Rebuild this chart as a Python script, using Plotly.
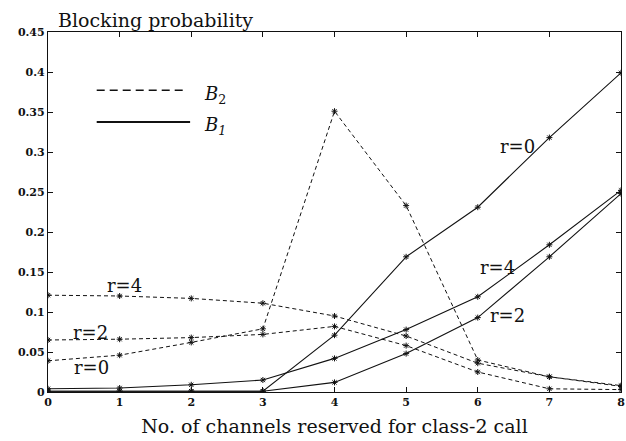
import plotly.graph_objects as go

# Number of channels reserved for class-2 calls
channels = [0, 1, 2, 3, 4, 5, 6, 7, 8]

# Class-2 blocking probability B2 (dashed)
b2_r0 = [0.039, 0.046, 0.062, 0.079, 0.351, 0.233, 0.040, 0.019, 0.008]
b2_r2 = [0.065, 0.066, 0.068, 0.072, 0.082, 0.058, 0.025, 0.004, 0.003]
b2_r4 = [0.121, 0.120, 0.117, 0.111, 0.095, 0.070, 0.036, 0.019, 0.007]

# Class-1 blocking probability B1 (solid)
b1_r0 = [0.001, 0.001, 0.001, 0.001, 0.071, 0.169, 0.231, 0.318, 0.399]
b1_r2 = [0.001, 0.001, 0.001, 0.001, 0.012, 0.048, 0.093, 0.169, 0.248]
b1_r4 = [0.004, 0.005, 0.009, 0.015, 0.042, 0.078, 0.119, 0.184, 0.252]

# Curve labels: (text, x, y)
curve_labels = [
    ("r=4", 1.07, 0.133),
    ("r=2", 0.59, 0.074),
    ("r=0", 0.61, 0.031),
    ("r=0", 6.55, 0.307),
    ("r=4", 6.27, 0.156),
    ("r=2", 6.41, 0.096),
]

SERIF = "DejaVu Serif, serif"
INK = "#111111"

fig = go.Figure()

marker = dict(symbol="asterisk-open", size=5, color=INK, line=dict(width=1, color=INK))

for ys in (b2_r0, b2_r2, b2_r4):
    fig.add_trace(go.Scatter(
        x=channels, y=ys, mode="lines+markers",
        line=dict(color=INK, width=1, dash="4px,3px"),
        marker=marker, showlegend=False, hoverinfo="skip",
    ))

for ys in (b1_r0, b1_r2, b1_r4):
    fig.add_trace(go.Scatter(
        x=channels, y=ys, mode="lines+markers",
        line=dict(color=INK, width=1.1),
        marker=marker, showlegend=False, hoverinfo="skip",
    ))

for text, x, y in curve_labels:
    fig.add_annotation(x=x, y=y, text=text, showarrow=False,
                       font=dict(family=SERIF, size=18, color=INK),
                       xanchor="center", yanchor="middle")

# Legend key drawn by hand
fig.add_shape(type="line", xref="paper", yref="paper",
              x0=0.085, x1=0.238, y0=0.838, y1=0.838,
              line=dict(color=INK, width=1.6, dash="8px,5px"))
fig.add_shape(type="line", xref="paper", yref="paper",
              x0=0.085, x1=0.248, y0=0.750, y1=0.750,
              line=dict(color=INK, width=2.2))
fig.add_annotation(xref="paper", yref="paper", x=0.268, y=0.826,
                   text="<i>B</i><sub>2</sub>", showarrow=False,
                   xanchor="left", yanchor="middle",
                   font=dict(family=SERIF, size=18, color=INK))
fig.add_annotation(xref="paper", yref="paper", x=0.268, y=0.738,
                   text="<i>B</i><sub><i>1</i></sub>", showarrow=False,
                   xanchor="left", yanchor="middle",
                   font=dict(family=SERIF, size=18, color=INK))

# Y-axis caption above the frame
fig.add_annotation(xref="paper", yref="paper", x=0.014, y=1.032,
                   text="Blocking probability", showarrow=False,
                   xanchor="left", yanchor="middle",
                   font=dict(family=SERIF, size=19, color=INK))

axis_common = dict(
    showline=True, linecolor=INK, linewidth=1.2, mirror="ticks",
    ticks="inside", ticklen=5, tickcolor=INK, tickwidth=1,
    showgrid=False, zeroline=False, ticklabeloverflow="allow",
    tickfont=dict(family=SERIF, size=11, color=INK, weight="bold"),
)

fig.update_layout(
    width=626, height=441,
    margin=dict(l=48, r=1, t=32, b=49),
    paper_bgcolor="white", plot_bgcolor="white",
    showlegend=False,
    xaxis=dict(range=[0, 8], dtick=1, tick0=0,
               title=dict(text="No. of channels reserved for class-2 call",
                          font=dict(family=SERIF, size=19, color=INK),
                          standoff=11),
               **axis_common),
    yaxis=dict(range=[0, 0.45], dtick=0.05, tick0=0, tickformat="~g",
               **axis_common),
)

fig.write_html("out.html")
